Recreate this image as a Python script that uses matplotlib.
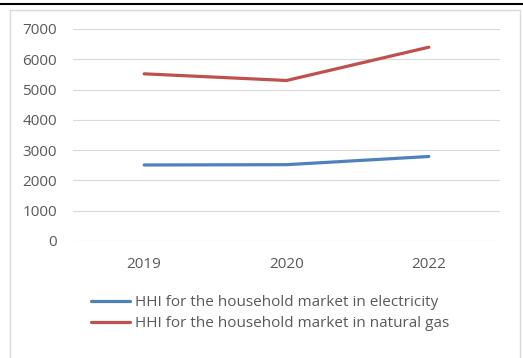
import matplotlib.pyplot as plt
from matplotlib.lines import Line2D
from matplotlib.patches import Rectangle

plt.rcParams['font.family'] = ['Open Sans', 'DejaVu Sans']

years = ["2019", "2020", "2022"]
electricity = [2510, 2520, 2790]
natural_gas = [5520, 5300, 6400]
labels = ["HHI for the household market in electricity",
          "HHI for the household market in natural gas"]

W, H = 523, 358
fig = plt.figure(figsize=(W / 100, H / 100), dpi=100)

# outer frame and top rule
fig.add_artist(Line2D([0, 1], [1 - 3.5 / H, 1 - 3.5 / H], color='black', lw=1.5))
fig.add_artist(Rectangle((9.5 / W, -0.1), (519.5 - 9.5) / W, 1.1 - 9.5 / H,
                         fill=False, edgecolor='#d9d9d9', lw=1.0))

ax = fig.add_axes([73 / W, 1 - 241 / H, (500 - 73) / W, (241 - 29) / H])
x = range(len(years))
ax.plot(x, electricity, color='#4F81BD', lw=2.3, label=labels[0], solid_capstyle='round')
ax.plot(x, natural_gas, color='#C0504D', lw=2.3, label=labels[1], solid_capstyle='round')

ax.set_xlim(-0.5, 2.5)
ax.set_ylim(0, 7000)
ax.set_yticks(range(0, 7001, 1000))
ax.set_xticks(list(x))
ax.set_xticklabels(years)
ax.grid(axis='y', color='#d9d9d9', lw=0.8)
ax.set_axisbelow(True)
for s in ax.spines.values():
    s.set_visible(False)
ax.tick_params(length=0, labelsize=11, colors='#595959')
ax.tick_params(axis='x', pad=11.5)
ax.tick_params(axis='y', pad=11.5)

fig.legend(loc='upper left', bbox_to_anchor=(85 / W, 1 - 289 / H), frameon=False,
           fontsize=11, handlelength=2.55, handletextpad=0.33, labelspacing=0.38,
           borderaxespad=0, labelcolor='#595959')

fig.savefig("out.png", dpi=100)
